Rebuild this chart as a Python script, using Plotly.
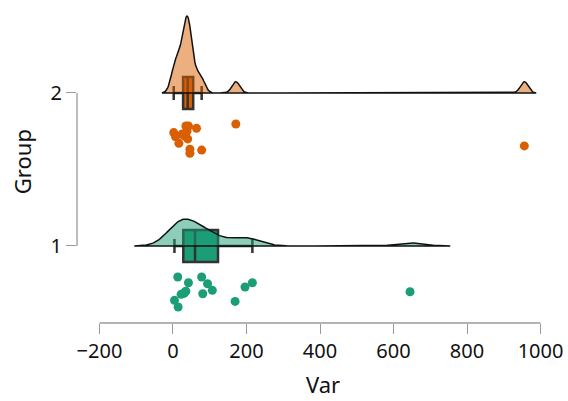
import numpy as np
import plotly.graph_objects as go

# ---- data ----
groups = [1, 2]
group_labels = ["1", "2"]
g1_values = [4, 13, 14, 22, 30, 33, 35, 42, 78, 81, 94, 107, 169, 196, 216, 645]
g1_ypos = [0.645, 0.797, 0.601, 0.684, 0.690, 0.699, 0.705, 0.760, 0.797, 0.688,
           0.753, 0.710, 0.638, 0.732, 0.760, 0.701]
g2_values = [2, 7, 16, 25, 30, 35, 38, 40, 42, 46, 46, 64, 78, 171, 956]
g2_ypos = [1.741, 1.714, 1.671, 1.732, 1.720, 1.784, 1.750, 1.700, 1.784, 1.632,
           1.606, 1.769, 1.627, 1.797, 1.654]
x_ticks = [-200, 0, 200, 400, 600, 800, 1000]
y_ticks = [1, 2]

colors = {1: "#1B9E77", 2: "#D95F02"}
fills = {1: "rgba(27,158,119,0.5)", 2: "rgba(217,95,2,0.5)"}
peak_height = 0.503
font_family = "Noto Sans"


def nrd0(x):
    x = np.asarray(x, float)
    sd = np.std(x, ddof=1)
    iqr = np.subtract(*np.percentile(x, [75, 25]))
    return 0.9 * min(sd, iqr / 1.34) * len(x) ** -0.2


def kde(x):
    x = np.asarray(x, float)
    bw = nrd0(x)
    grid = np.linspace(x.min() - 3 * bw, x.max() + 3 * bw, 512)
    d = np.exp(-0.5 * ((grid[:, None] - x[None, :]) / bw) ** 2).sum(1)
    d /= len(x) * bw * np.sqrt(2 * np.pi)
    return grid, d


def box_stats(x):
    x = np.asarray(x, float)
    q1, med, q3 = np.percentile(x, [25, 50, 75])
    iqr = q3 - q1
    lo = x[x >= q1 - 1.5 * iqr].min()
    hi = x[x <= q3 + 1.5 * iqr].max()
    return q1, med, q3, lo, hi


data = {1: (g1_values, g1_ypos), 2: (g2_values, g2_ypos)}
dens = {g: kde(data[g][0]) for g in groups}
dmax = max(d.max() for _, d in dens.values())

fig = go.Figure()

for g in groups:
    grid, d = dens[g]
    h = d / dmax * peak_height
    xs = np.concatenate([grid, grid[::-1]])
    ys = np.concatenate([g + h, np.full(len(grid), g)])
    fig.add_trace(go.Scatter(x=xs, y=ys, mode="lines", fill="toself",
                             fillcolor=fills[g], line=dict(color="#111111", width=1.5),
                             hoverinfo="skip", showlegend=False))

for g in groups:
    q1, med, q3, lo, hi = box_stats(data[g][0])
    fig.add_trace(go.Box(y=[g], q1=[q1], median=[med], q3=[q3], lowerfence=[lo],
                         upperfence=[hi], orientation="h", width=0.21, whiskerwidth=0.44,
                         fillcolor=colors[g], line=dict(color="#333333", width=2.5),
                         boxpoints=False, showlegend=False))

for g in groups:
    vals, yp = data[g]
    fig.add_trace(go.Scatter(x=vals, y=yp, mode="markers",
                             marker=dict(color=colors[g], size=9, line=dict(width=0)),
                             showlegend=False))

axis_col = "#9a9a9a"
fig.add_shape(type="line", xref="x", yref="paper", x0=x_ticks[0], x1=x_ticks[-1],
              y0=0, y1=0, line=dict(color=axis_col, width=1.3))
fig.add_shape(type="line", xref="paper", yref="y", x0=0, x1=0,
              y0=y_ticks[0], y1=y_ticks[-1], line=dict(color=axis_col, width=1.3))

fig.add_annotation(text="Var", xref="paper", yref="paper", x=0.5, y=-0.19,
                   showarrow=False, yanchor="middle", xanchor="center", borderpad=0,
                   font=dict(size=22, color="#111111", family=font_family))
fig.add_annotation(text="Group", xref="paper", yref="paper", x=-0.112, y=0.498,
                   showarrow=False, yanchor="middle", xanchor="center", textangle=-90,
                   borderpad=0, font=dict(size=22, color="#111111", family=font_family))

fig.update_layout(
    width=568, height=401,
    margin=dict(l=77, r=0, t=0, b=78),
    paper_bgcolor="white", plot_bgcolor="white",
    font=dict(family=font_family, size=20, color="#111111"),
    showlegend=False,
    xaxis=dict(range=[-261.2, 1074.8], tickvals=x_ticks, ticks="outside", ticklen=10,
               tickcolor=axis_col, tickwidth=1.3, showgrid=False, zeroline=False,
               showline=False, automargin=False, tickfont=dict(size=20)),
    yaxis=dict(range=[0.4967, 2.6078], tickvals=y_ticks, ticktext=group_labels,
               ticks="outside", ticklen=10, tickcolor=axis_col, tickwidth=1.3,
               showgrid=False, zeroline=False, showline=False, automargin=False,
               tickfont=dict(size=20)),
)

fig.write_html("out.html")
